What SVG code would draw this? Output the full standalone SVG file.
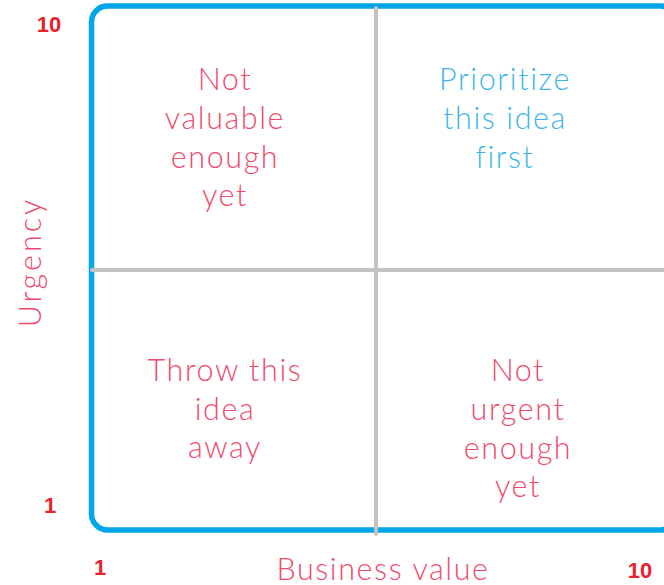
<svg xmlns="http://www.w3.org/2000/svg" width="664" height="585" viewBox="0 0 664 585">
  <style>
    .frame { fill: none; stroke: #00a6e6; stroke-width: 5.5; }
    .divider { stroke: #c3c3c3; stroke-width: 4; stroke-linecap: round; }
    .label { font-family: Lato, "Open Sans", "Liberation Sans", sans-serif; font-weight: 300; font-size: 30.5px; letter-spacing: 1.6px; text-anchor: middle; }
    .pink { fill: #ef4a6c; }
    .blue { fill: #3db6e6; }
    .scale { font-family: "Liberation Sans", Arial, sans-serif; font-weight: bold; font-size: 22px; fill: #e8222c; text-anchor: middle; }
  </style>
  <rect width="664" height="585" fill="#ffffff"/>

  <!-- Quadrant frame and dividers -->
  <g id="connectors">
    <rect class="frame" x="91.5" y="6" width="585" height="524" rx="16"/>
    <line class="divider" x1="376" y1="8" x2="376" y2="534"/>
    <line class="divider" x1="92" y1="270" x2="666" y2="270"/>
  </g>

  <!-- Quadrant labels -->
  <g id="q-top-left">
    <text class="label pink" x="225"><tspan x="225" y="90">Not</tspan><tspan x="225" y="129">valuable</tspan><tspan x="225" y="168">enough</tspan><tspan x="225" y="206">yet</tspan></text>
  </g>
  <g id="q-top-right">
    <text class="label blue" x="505"><tspan x="505" y="90">Prioritize</tspan><tspan x="505" y="129">this idea</tspan><tspan x="505" y="168">first</tspan></text>
  </g>
  <g id="q-bottom-left">
    <text class="label pink" x="225"><tspan x="225" y="381">Throw this</tspan><tspan x="225" y="420">idea</tspan><tspan x="225" y="458">away</tspan></text>
  </g>
  <g id="q-bottom-right">
    <text class="label pink" x="518"><tspan x="518" y="381">Not</tspan><tspan x="518" y="420">urgent</tspan><tspan x="518" y="459">enough</tspan><tspan x="518" y="497">yet</tspan></text>
  </g>

  <!-- Axis titles -->
  <g id="axis-x">
    <text class="label pink" x="383" y="580">Business value</text>
  </g>
  <g id="axis-y">
    <text class="label pink" transform="translate(41 262) rotate(-90)" x="0" y="0" style="letter-spacing:3px">Urgency</text>
  </g>

  <!-- Scale marks -->
  <g id="scale">
    <text class="scale" x="49" y="32">10</text>
    <text class="scale" x="50" y="513">1</text>
    <text class="scale" x="100" y="575">1</text>
    <text class="scale" x="640" y="578">10</text>
  </g>
</svg>
